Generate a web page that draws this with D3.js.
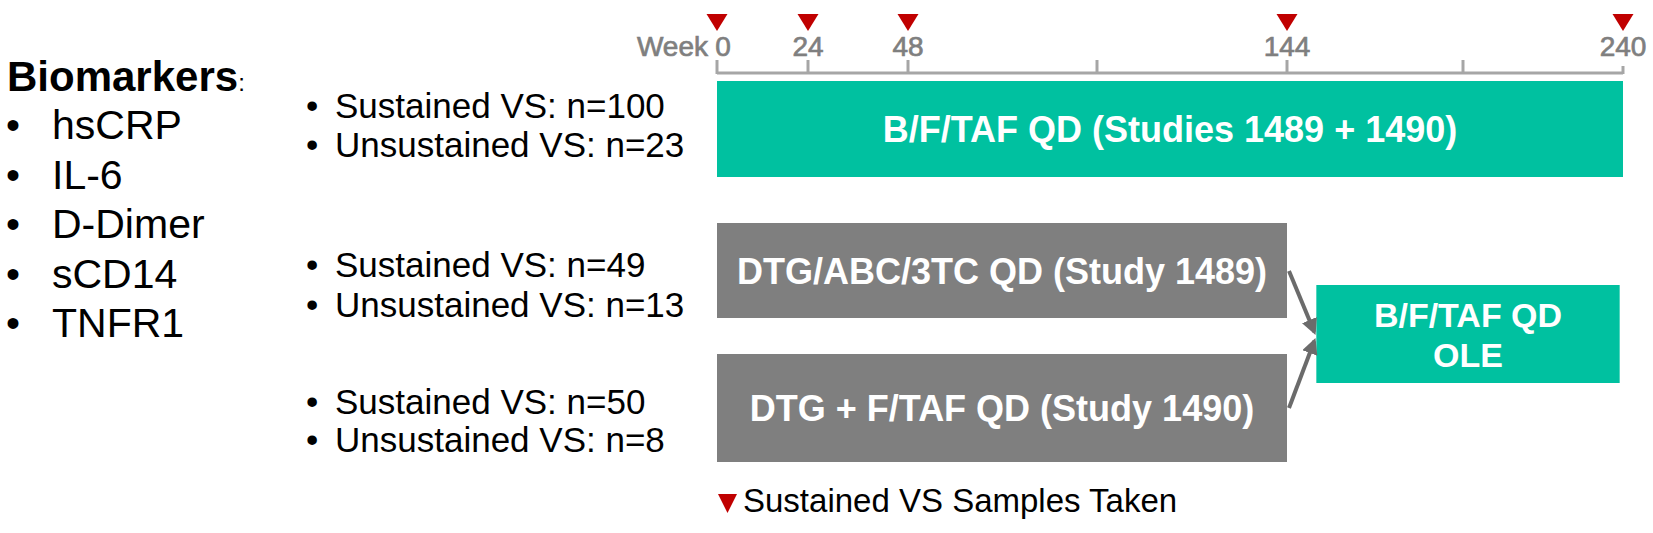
<!DOCTYPE html>
<html>
<head>
<meta charset="utf-8">
<script src="https://cdn.jsdelivr.net/npm/d3@7"></script>
<style>
  body { margin: 0; background: #fff; }
  svg { display: block; font-family: Arial, "Liberation Sans", sans-serif; }
</style>
</head>
<body>
<svg id="chart"></svg>
<script>
// Study data
const biomarkers = ['hsCRP', 'IL-6', 'D-Dimer', 'sCD14', 'TNFR1'];
const arms = ['B/F/TAF QD (Studies 1489 + 1490)', 'DTG/ABC/3TC QD (Study 1489)', 'DTG + F/TAF QD (Study 1490)'];
const armStart = [0, 0, 0];
const armEnd = [240, 144, 144];
const sustainedN = [100, 49, 50];
const unsustainedN = [23, 13, 8];
const sampleWeeks = [0, 24, 48, 144, 240];
const tickWeeks = [0, 24, 48, 96, 144, 192, 240];
const tickLabels = ['0', '24', '48', '', '144', '', '240'];
const oleLabel = ['B/F/TAF QD', 'OLE'];
const oleSpan = [152, 239];

const width = 1653;
const height = 533;
const teal = '#00c1a0';
const grey = '#7f7f7f';

const svg = d3.select('#chart')
  .attr('width', width)
  .attr('height', height);

// the week axis in the slide is hand drawn, so it is piecewise
const x = d3.scaleLinear()
  .domain(tickWeeks)
  .range([717, 808, 908, 1097, 1287, 1463, 1623]);

// row layout: top / bottom of each arm box
const rowTop = [81, 223, 354];
const rowBottom = [177, 318, 462];

// Biomarker list
svg.append('text')
  .attr('x', 7)
  .attr('y', 91)
  .attr('font-size', 42)
  .attr('font-weight', 'bold')
  .text('Biomarkers')
  .append('tspan')
  .attr('font-weight', 'normal')
  .attr('font-size', 24)
  .text(':');

const bio = svg.selectAll('.bio')
  .data(biomarkers)
  .enter()
  .append('g')
  .attr('class', 'bio')
  .attr('transform', (d, i) => `translate(0, ${139 + i * 49.5})`);

bio.append('text')
  .attr('x', 6)
  .attr('font-size', 40)
  .text('•');

bio.append('text')
  .attr('x', 52)
  .attr('font-size', 41)
  .text(d => d);

// Axis
const axis = svg.append('g').attr('id', 'x-axis');

axis.append('line')
  .attr('x1', x(0))
  .attr('x2', x(240))
  .attr('y1', 73)
  .attr('y2', 73)
  .attr('stroke', '#a6a6a6')
  .attr('stroke-width', 3);

axis.selectAll('.tick')
  .data(tickWeeks)
  .enter()
  .append('line')
  .attr('class', 'tick')
  .attr('x1', d => x(d))
  .attr('x2', d => x(d))
  .attr('y1', d => d === 240 ? 66 : 60)
  .attr('y2', 74)
  .attr('stroke', '#a6a6a6')
  .attr('stroke-width', 3);

axis.selectAll('.tick-label')
  .data(tickWeeks)
  .enter()
  .append('text')
  .attr('class', 'tick-label')
  .attr('x', d => x(d) + (d === 0 ? 6 : 0))
  .attr('y', 56)
  .attr('text-anchor', 'middle')
  .attr('font-size', 28)
  .attr('fill', grey)
  .attr('stroke', grey)
  .attr('stroke-width', 0.7)
  .text((d, i) => tickLabels[i]);

axis.append('text')
  .attr('x', x(0) - 9)
  .attr('y', 56)
  .attr('text-anchor', 'end')
  .attr('font-size', 28)
  .attr('fill', grey)
  .attr('stroke', grey)
  .attr('stroke-width', 0.7)
  .text('Week');

// Sample triangles
svg.selectAll('.sample')
  .data(sampleWeeks)
  .enter()
  .append('path')
  .attr('class', 'sample')
  .attr('d', d => `M${x(d) - 10.5},14 L${x(d) + 10.5},14 L${x(d)},31 Z`)
  .attr('fill', '#c00000');

// Arm boxes
svg.selectAll('.arm')
  .data(arms)
  .enter()
  .append('rect')
  .attr('class', 'arm')
  .attr('x', (d, i) => x(armStart[i]))
  .attr('y', (d, i) => rowTop[i])
  .attr('width', (d, i) => x(armEnd[i]) - x(armStart[i]))
  .attr('height', (d, i) => rowBottom[i] - rowTop[i])
  .attr('fill', (d, i) => i === 0 ? teal : grey);

svg.selectAll('.arm-label')
  .data(arms)
  .enter()
  .append('text')
  .attr('class', 'arm-label')
  .attr('x', (d, i) => (x(armStart[i]) + x(armEnd[i])) / 2)
  .attr('y', (d, i) => (rowTop[i] + rowBottom[i]) / 2 + 13)
  .attr('text-anchor', 'middle')
  .attr('font-size', 36)
  .attr('font-weight', 'bold')
  .attr('fill', '#fff')
  .text(d => d);

// n counts per arm
const counts = svg.selectAll('.counts')
  .data(arms)
  .enter()
  .append('g')
  .attr('class', 'counts')
  .attr('transform', (d, i) => `translate(0, ${[118, 277, 414][i]})`);

counts.append('text')
  .attr('x', 306)
  .attr('font-size', 35)
  .text('•')
  .append('tspan')
  .attr('x', 335)
  .text((d, i) => `Sustained VS: n=${sustainedN[i]}`);

counts.append('text')
  .attr('x', 306)
  .attr('y', (d, i) => [39, 40, 38][i])
  .attr('font-size', 35)
  .text('•')
  .append('tspan')
  .attr('x', 335)
  .text((d, i) => `Unsustained VS: n=${unsustainedN[i]}`);

// OLE box
const oleTop = 285, oleBottom = 383;
svg.append('rect')
  .attr('x', x(oleSpan[0]))
  .attr('y', oleTop)
  .attr('width', x(oleSpan[1]) - x(oleSpan[0]))
  .attr('height', oleBottom - oleTop)
  .attr('fill', teal);

svg.selectAll('.ole-label')
  .data(oleLabel)
  .enter()
  .append('text')
  .attr('class', 'ole-label')
  .attr('x', (x(oleSpan[0]) + x(oleSpan[1])) / 2)
  .attr('y', (d, i) => 327 + i * 40)
  .attr('text-anchor', 'middle')
  .attr('font-size', 34)
  .attr('font-weight', 'bold')
  .attr('fill', '#fff')
  .text(d => d);

// Arrows into OLE
svg.append('defs')
  .append('marker')
  .attr('id', 'head')
  .attr('viewBox', '0 0 10 10')
  .attr('refX', 8)
  .attr('refY', 5)
  .attr('markerWidth', 4)
  .attr('markerHeight', 4)
  .attr('orient', 'auto')
  .append('path')
  .attr('d', 'M0,0 L10,5 L0,10 Z')
  .attr('fill', '#6b6b6b');

svg.selectAll('.arrow')
  .data([1, 2])
  .enter()
  .append('line')
  .attr('class', 'arrow')
  .attr('x1', x(armEnd[1]) + 2)
  .attr('y1', (d, i) => [271, 408][i])
  .attr('x2', x(oleSpan[0]) - 2)
  .attr('y2', (d, i) => [332, 341][i])
  .attr('stroke', '#6b6b6b')
  .attr('stroke-width', 4)
  .attr('marker-end', 'url(#head)');

// Legend
svg.append('path')
  .attr('d', `M${x(0) + 1},494 L${x(0) + 20},494 L${x(0) + 10.5},513 Z`)
  .attr('fill', '#c00000');

svg.append('text')
  .attr('x', x(0) + 26)
  .attr('y', 512)
  .attr('font-size', 33)
  .text('Sustained VS Samples Taken');
</script>
</body>
</html>
